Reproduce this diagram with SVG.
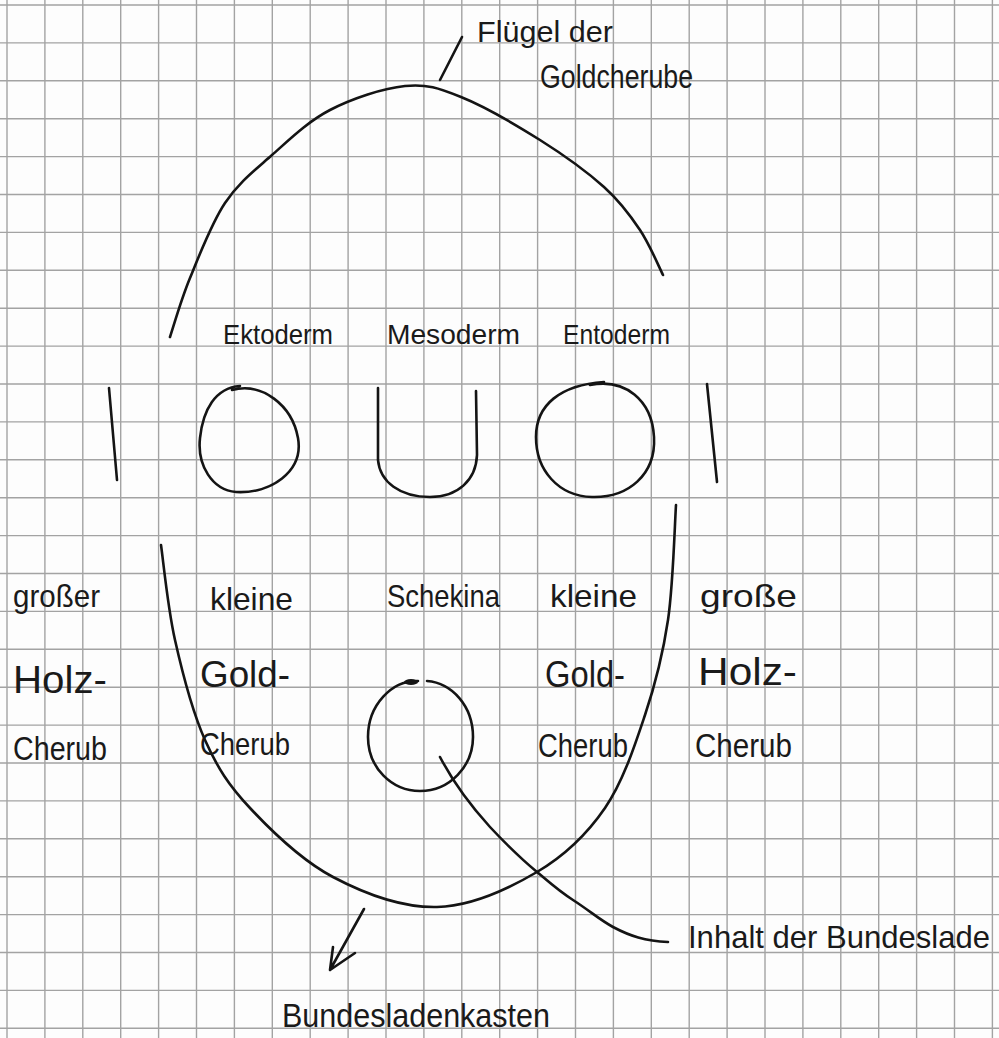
<svg xmlns="http://www.w3.org/2000/svg" width="999" height="1038" viewBox="0 0 999 1038">
<style>
.grid{stroke:#a3a3a3;stroke-width:1.4;fill:none}
.pen{stroke:#141414;stroke-width:2.6;fill:none;stroke-linecap:round;stroke-linejoin:round}
.hw{font-family:"Liberation Sans",Arial,sans-serif;fill:#1a1a1a;lengthAdjust:spacingAndGlyphs}
</style>
<rect width="999" height="1038" fill="#fdfdfd"/>
<g id="grid">
<path class="grid" d="M7,0V1038M44.9,0V1038M82.8,0V1038M120.7,0V1038M158.6,0V1038M196.5,0V1038M234.4,0V1038M272.3,0V1038M310.2,0V1038M348.1,0V1038M386,0V1038M423.9,0V1038M461.8,0V1038M499.7,0V1038M537.6,0V1038M575.5,0V1038M613.4,0V1038M651.3,0V1038M689.2,0V1038M727.1,0V1038M765,0V1038M802.9,0V1038M840.8,0V1038M878.7,0V1038M916.6,0V1038M954.5,0V1038M992.4,0V1038"/>
<path class="grid" d="M0,5H999M0,42.9H999M0,80.8H999M0,118.7H999M0,156.6H999M0,194.5H999M0,232.4H999M0,270.3H999M0,308.2H999M0,346.1H999M0,384H999M0,421.9H999M0,459.8H999M0,497.7H999M0,535.6H999M0,573.5H999M0,611.4H999M0,649.3H999M0,687.2H999M0,725.1H999M0,763H999M0,800.9H999M0,838.8H999M0,876.7H999M0,914.6H999M0,952.5H999M0,990.4H999M0,1028.3H999"/>
</g>
<g id="wings">
<path class="pen" d="M170,337 C173.3,327.2 180.8,300.3 190,278 C199.2,255.7 211.3,223.5 225,203 C238.7,182.5 254.5,170.5 272,155 C289.5,139.5 307.8,121.5 330,110 C352.2,98.5 383.2,88.2 405,86 C426.8,83.8 438.5,88 461,97 C483.5,106 516.2,125 540,140 C563.8,155 587.3,172 604,187 C620.7,202 630.2,215.3 640,230 C649.8,244.7 659.2,267.5 663,275"/>
<text class="hw" x="477" y="42" font-size="30" textLength="136" lengthAdjust="spacingAndGlyphs">Flügel der</text>
<text class="hw" x="540" y="88" font-size="34" textLength="153" lengthAdjust="spacingAndGlyphs">Goldcherube</text>
</g>
<g id="ektoderm">
<text class="hw" x="223" y="344" font-size="28" textLength="110" lengthAdjust="spacingAndGlyphs">Ektoderm</text>
<path class="pen" d="M232,390 C262,382 292,405 298,438 C304,472 270,494 236,492 C212,490 197,465 200,438 C203,410 215,388 240,386"/>
</g>
<g id="mesoderm">
<text class="hw" x="387" y="344" font-size="28" textLength="133" lengthAdjust="spacingAndGlyphs">Mesoderm</text>
<path class="pen" d="M378,388 L378,460 C380,482 400,497 430,497 C458,497 476,480 477,455 L476,391"/>
</g>
<g id="entoderm">
<text class="hw" x="563" y="344" font-size="28" textLength="107" lengthAdjust="spacingAndGlyphs">Entoderm</text>
<path class="pen" d="M590,385 C625,378 652,400 654,437 C656,475 628,498 592,497 C558,496 536,470 536,437 C536,405 560,385 604,382"/>
</g>
<g id="left-post">
<path class="pen" d="M109,388 L117,480"/>
</g>
<g id="right-post">
<path class="pen" d="M707,384 L717,482"/>
</g>
<g id="ark-box">
<path class="pen" d="M161,545 C163.3,560.8 167.7,607.5 175,640 C182.3,672.5 192.5,712 205,740 C217.5,768 228.7,785.2 250,808 C271.3,830.8 301.8,860.5 333,877 C364.2,893.5 403,907.8 437,907 C471,906.2 509,888.5 537,872 C565,855.5 587,834.2 605,808 C623,781.8 634.5,746.3 645,715 C655.5,683.7 662.8,655 668,620 C673.2,585 674.7,524.2 676,505"/>
</g>
<g id="big-cherub-left">
<text class="hw" x="13" y="607" font-size="32" textLength="87" lengthAdjust="spacingAndGlyphs">großer</text>
<text class="hw" x="13" y="693" font-size="38" textLength="94" lengthAdjust="spacingAndGlyphs">Holz-</text>
<text class="hw" x="13" y="760" font-size="34" textLength="94" lengthAdjust="spacingAndGlyphs">Cherub</text>
</g>
<g id="small-cherub-left">
<text class="hw" x="210" y="610" font-size="32" textLength="83" lengthAdjust="spacingAndGlyphs">kleine</text>
<text class="hw" x="200" y="687" font-size="36" textLength="90" lengthAdjust="spacingAndGlyphs">Gold-</text>
<text class="hw" x="200" y="755" font-size="32" textLength="90" lengthAdjust="spacingAndGlyphs">Cherub</text>
</g>
<g id="schekina">
<text class="hw" x="387" y="607" font-size="32" textLength="113" lengthAdjust="spacingAndGlyphs">Schekina</text>
</g>
<g id="small-cherub-right">
<text class="hw" x="550" y="607" font-size="32" textLength="87" lengthAdjust="spacingAndGlyphs">kleine</text>
<text class="hw" x="545" y="687" font-size="36" textLength="80" lengthAdjust="spacingAndGlyphs">Gold-</text>
<text class="hw" x="538" y="757" font-size="34" textLength="90" lengthAdjust="spacingAndGlyphs">Cherub</text>
</g>
<g id="big-cherub-right">
<text class="hw" x="700" y="607" font-size="32" textLength="97" lengthAdjust="spacingAndGlyphs">große</text>
<text class="hw" x="698" y="685" font-size="38" textLength="99" lengthAdjust="spacingAndGlyphs">Holz-</text>
<text class="hw" x="695" y="757" font-size="34" textLength="97" lengthAdjust="spacingAndGlyphs">Cherub</text>
</g>
<g id="ark-content">
<path class="pen" d="M418,681 C392,680 368,705 368,737 C368,768 392,791 420,791 C450,791 473,766 473,737 C473,706 452,683 427,681"/>
<ellipse cx="411" cy="682" rx="7" ry="3" fill="#141414"/>
</g>
<g id="label-inhalt">
<text class="hw" x="688" y="948" font-size="32" textLength="302" lengthAdjust="spacingAndGlyphs">Inhalt der Bundeslade</text>
</g>
<g id="label-kasten">
<text class="hw" x="282" y="1027" font-size="34" textLength="268" lengthAdjust="spacingAndGlyphs">Bundesladenkasten</text>
</g>
<g id="connectors">
<path class="pen" d="M440,80 L462,37"/>
<path class="pen" d="M440,757 C452,780 470,805 490,827 C505,843 520,858 537,872 C550,883 560,892 573,900 C590,911 600,920 613,927 C630,936 645,941 668,942"/>
<path class="pen" d="M364,909 L330,970 M333,947 L330,970 L355,953"/>
</g>
</svg>
